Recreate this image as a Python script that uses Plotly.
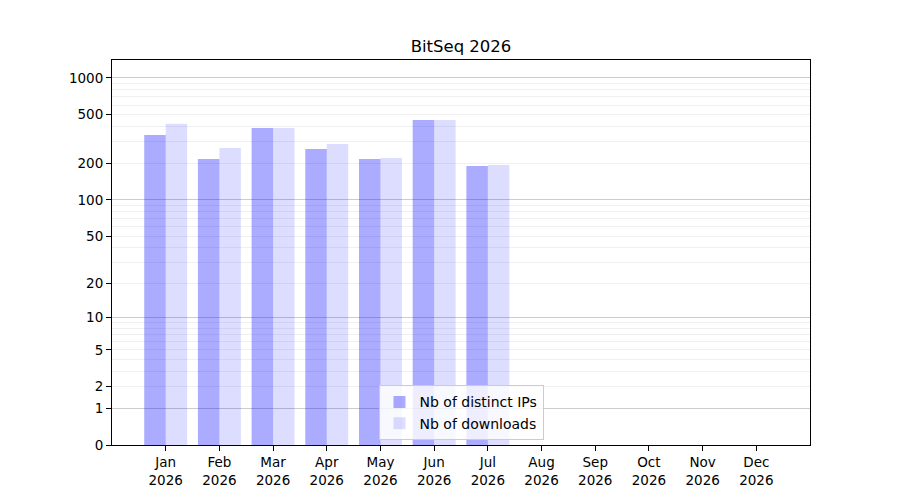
import numpy as np
import plotly.graph_objects as go

months = ["Jan", "Feb", "Mar", "Apr", "May", "Jun", "Jul", "Aug", "Sep", "Oct", "Nov", "Dec"]
year = "2026"
distinct_ips = [341, 217, 390, 262, 217, 453, 190, 0, 0, 0, 0, 0]
downloads = [421, 267, 390, 288, 221, 453, 194, 0, 0, 0, 0, 0]
label_ticks = [0, 1, 2, 5, 10, 20, 50, 100, 200, 500, 1000]
major_grid = [1, 10, 100, 1000]
minor_grid = [2, 3, 4, 5, 6, 7, 8, 9, 20, 30, 40, 50, 60, 70, 80, 90,
              200, 300, 400, 500, 600, 700, 800, 900]


def tr(v):
    return np.log10(1 + np.asarray(v, dtype=float))


x = list(range(len(months)))
font = "DejaVu Sans"
yrange = [0, 3.1475]

fig = go.Figure()
fig.add_trace(go.Bar(x=x, y=tr(distinct_ips), name="Nb of distinct IPs",
                     marker=dict(color="rgba(0,0,255,0.33)", line=dict(width=0))))
fig.add_trace(go.Bar(x=x, y=tr(downloads), name="Nb of downloads",
                     marker=dict(color="rgba(0,0,255,0.135)", line=dict(width=0))))

other_labels = [v for v in label_ticks if v not in major_grid]

fig.update_layout(
    width=900, height=500,
    paper_bgcolor="white", plot_bgcolor="white",
    margin=dict(l=104, r=98, t=52, b=63),
    font=dict(family=font, size=13.5, color="black"),
    title=dict(text="BitSeq 2026", x=453 / 900, xanchor="center",
               y=1 - 38 / 500, yanchor="middle", font=dict(size=16.5, color="black")),
    barmode="group", bargap=0.2, bargroupgap=0,
    showlegend=True,
    legend=dict(x=0.5, xanchor="center", y=0.012, yanchor="bottom",
                bgcolor="rgba(255,255,255,0.8)", bordercolor="#cccccc", borderwidth=1,
                font=dict(size=14), tracegroupgap=2),
    xaxis=dict(range=[-1, 12], tickmode="array", tickvals=x,
               ticktext=[f"{m}<br>{year}" for m in months],
               showgrid=False, zeroline=False, showline=True, mirror=True,
               linecolor="black", linewidth=1, ticks="outside", ticklen=5,
               tickcolor="black"),
    yaxis=dict(range=yrange, tickmode="array", tickvals=tr(major_grid),
               ticktext=[str(v) for v in major_grid],
               showgrid=True, gridcolor="#cccccc", gridwidth=1,
               zeroline=False, showline=True, mirror=True,
               linecolor="black", linewidth=1, ticks="outside", ticklen=5,
               tickcolor="black",
               minor=dict(tickmode="array", tickvals=tr(minor_grid), showgrid=True,
                          gridcolor="#f0f0f0", gridwidth=1, ticks="")),
    yaxis2=dict(range=yrange, overlaying="y", side="left", anchor="x",
                tickmode="array", tickvals=tr(other_labels),
                ticktext=[str(v) for v in other_labels],
                showgrid=False, zeroline=False, showline=False,
                ticks="outside", ticklen=5, tickcolor="black"),
)
# invisible trace to activate yaxis2
fig.add_trace(go.Scatter(x=[0], y=[0], yaxis="y2", mode="markers",
                         marker=dict(opacity=0), showlegend=False, hoverinfo="skip"))

fig.write_html("out.html")
